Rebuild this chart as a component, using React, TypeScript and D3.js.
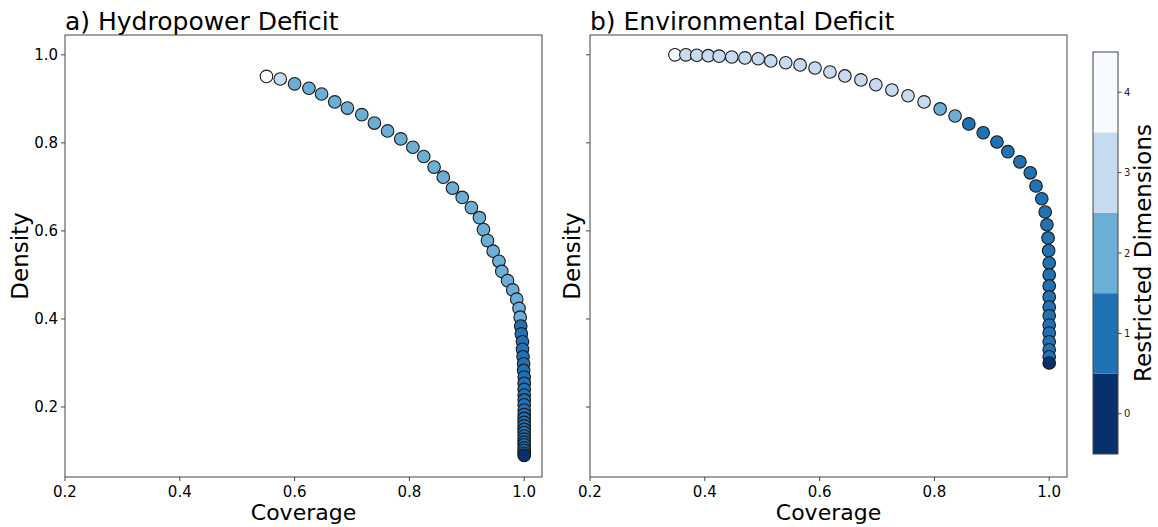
import React from "react";
import * as d3 from "d3";

// ---- Data ----
const hydroCoverage = [
  0.551, 0.575, 0.600, 0.625, 0.647, 0.670, 0.692, 0.717, 0.739, 0.762, 0.785, 0.806, 0.825, 0.843,
  0.859, 0.875, 0.892, 0.908, 0.922, 0.929, 0.936, 0.946, 0.956, 0.961, 0.971, 0.980, 0.987, 0.991, 0.993,
  0.994, 0.995, 0.997, 0.997, 0.998, 0.999, 0.999, 1.0, 1.0, 1.0, 1.0, 1.0, 1.0, 1.0, 1.0, 1.0, 1.0, 1.0,
  1.0, 1.0, 1.0, 1.0, 1.0, 1.0, 1.0, 1.0, 1.0, 1.0,
];
const hydroDensity = [
  0.951, 0.945, 0.934, 0.924, 0.911, 0.893, 0.879, 0.864, 0.845, 0.827, 0.809, 0.790, 0.769, 0.745,
  0.722, 0.697, 0.676, 0.653, 0.630, 0.603, 0.578, 0.554, 0.531, 0.508, 0.487, 0.466, 0.445, 0.424, 0.404,
  0.384, 0.366, 0.348, 0.331, 0.314, 0.298, 0.283, 0.268, 0.254, 0.240, 0.227, 0.216, 0.205, 0.193, 0.183,
  0.174, 0.165, 0.157, 0.149, 0.142, 0.134, 0.127, 0.120, 0.114, 0.107, 0.101, 0.095, 0.090,
];
const hydroRestricted = [
  4, 3, 2, 2, 2, 2, 2, 2, 2, 2, 2, 2, 2, 2, 2, 2, 2, 2, 2, 2, 2, 2, 2, 2, 2, 2, 2, 2, 2,
  1, 1, 1, 1, 1, 1, 1, 1, 1, 1, 1, 1, 1, 1, 1, 1, 1, 1, 1, 1, 1, 1, 1, 1, 1, 1, 1, 0,
];

const envCoverage = [
  0.348, 0.367, 0.386, 0.406, 0.425, 0.447, 0.470, 0.493, 0.515, 0.541, 0.566, 0.592, 0.618, 0.644,
  0.672, 0.698, 0.726, 0.754, 0.782, 0.810, 0.836, 0.860, 0.885, 0.909, 0.928, 0.949, 0.967, 0.977,
  0.987, 0.993, 0.996, 0.998, 0.999, 1.0, 1.0, 1.0, 1.0, 1.0, 1.0, 1.0, 1.0, 1.0, 1.0, 1.0, 1.0,
];
const envDensity = [
  1.0, 1.0, 0.999, 0.998, 0.997, 0.995, 0.993, 0.991, 0.986, 0.982, 0.977, 0.970, 0.961, 0.952,
  0.943, 0.932, 0.920, 0.907, 0.893, 0.877, 0.861, 0.843, 0.823, 0.802, 0.780, 0.757, 0.732, 0.702,
  0.673, 0.643, 0.614, 0.584, 0.555, 0.527, 0.500, 0.475, 0.450, 0.427, 0.407, 0.386, 0.368, 0.348,
  0.330, 0.314, 0.300,
];
const envRestricted = [
  4, 3, 3, 3, 3, 3, 3, 3, 3, 3, 3, 3, 3, 3, 3, 3, 3, 3, 3, 2, 2, 1, 1, 1, 1, 1, 1, 1,
  1, 1, 1, 1, 1, 1, 1, 1, 1, 1, 1, 1, 1, 1, 1, 1, 0,
];

const classColors = ["#08306b", "#2171b5", "#6baed6", "#c6dbef", "#f7fbff"];
const classTicks = [0, 1, 2, 3, 4];
const xTicks = [0.2, 0.4, 0.6, 0.8, 1.0];
const yTicks = [0.2, 0.4, 0.6, 0.8, 1.0];

const panelTitles = ["a) Hydropower Deficit", "b) Environmental Deficit"];

const FONT = "DejaVu Sans, sans-serif";

const plotTop = 35;
const plotBottom = 477;
const panelW = 477;
const panelLefts = [65, 590];

function Panel({ left, title, cov, den, cls, showYLabels }: any) {
  const x = d3.scaleLinear().domain([0.2, 1.031]).range([left, left + panelW]);
  const y = d3.scaleLinear().domain([0.041, 1.045]).range([plotBottom, plotTop]);
  const idx = d3.range(cov.length);
  return (
    <g>
      <text x={left} y={30} fontSize={25} fontFamily={FONT} fill="#000">{title}</text>
      {idx.map((i) => (
        <circle
          key={i}
          cx={x(cov[i])}
          cy={y(den[i])}
          r={6.3}
          fill={classColors[cls[i]]}
          stroke="#1a1a1a"
          strokeWidth={1.1}
        />
      ))}
      <rect x={left} y={plotTop} width={panelW} height={plotBottom - plotTop} fill="none" stroke="#444" strokeWidth={1} />
      {xTicks.map((t) => (
        <g key={"x" + t}>
          <line x1={x(t)} x2={x(t)} y1={plotBottom} y2={plotBottom + 4} stroke="#444" />
          <text x={x(t)} y={plotBottom + 20} fontSize={15} fontFamily={FONT} textAnchor="middle" fill="#000">
            {t.toFixed(1)}
          </text>
        </g>
      ))}
      {yTicks.map((t) => (
        <g key={"y" + t}>
          <line x1={left - 4} x2={left} y1={y(t)} y2={y(t)} stroke="#444" />
          {showYLabels && (
            <text x={left - 7} y={y(t) + 5} fontSize={15} fontFamily={FONT} textAnchor="end" fill="#000">
              {t.toFixed(1)}
            </text>
          )}
        </g>
      ))}
      <text x={left + panelW / 2} y={520} fontSize={22} fontFamily={FONT} textAnchor="middle" fill="#000">
        Coverage
      </text>
      <text
        transform={`translate(${showYLabels ? 28 : left - 10},${(plotTop + plotBottom) / 2}) rotate(-90)`}
        fontSize={23}
        fontFamily={FONT}
        textAnchor="middle"
        fill="#000"
      >
        Density
      </text>
    </g>
  );
}

function Colorbar() {
  const cx = 1093;
  const cw = 25;
  const cy = d3.scaleLinear().domain([-0.5, 4.5]).range([454, 52]);
  return (
    <g>
      {classTicks.map((c) => (
        <rect key={c} x={cx} y={cy(c + 0.5)} width={cw} height={cy(c - 0.5) - cy(c + 0.5)} fill={classColors[c]} />
      ))}
      <rect x={cx} y={52} width={cw} height={402} fill="none" stroke="#444" strokeWidth={1} />
      {classTicks.map((c) => (
        <g key={"t" + c}>
          <line x1={cx + cw} x2={cx + cw + 3.5} y1={cy(c)} y2={cy(c)} stroke="#444" />
          <text x={cx + cw + 6} y={cy(c) + 3.5} fontSize={10} fontFamily={FONT} fill="#222">
            {c}
          </text>
        </g>
      ))}
      <text
        transform={`translate(1151,253) rotate(-90)`}
        fontSize={23}
        fontFamily={FONT}
        textAnchor="middle"
        fill="#000"
      >
        Restricted Dimensions
      </text>
    </g>
  );
}

export default function App() {
  return (
    <svg width={1158} height={527} style={{ position: "absolute", left: 0, top: 0, background: "#fff" }}>
      <rect width={1158} height={527} fill="#fff" />
      <Panel left={panelLefts[0]} title={panelTitles[0]} cov={hydroCoverage} den={hydroDensity} cls={hydroRestricted} showYLabels={true} />
      <Panel left={panelLefts[1]} title={panelTitles[1]} cov={envCoverage} den={envDensity} cls={envRestricted} showYLabels={false} />
      <Colorbar />
    </svg>
  );
}
